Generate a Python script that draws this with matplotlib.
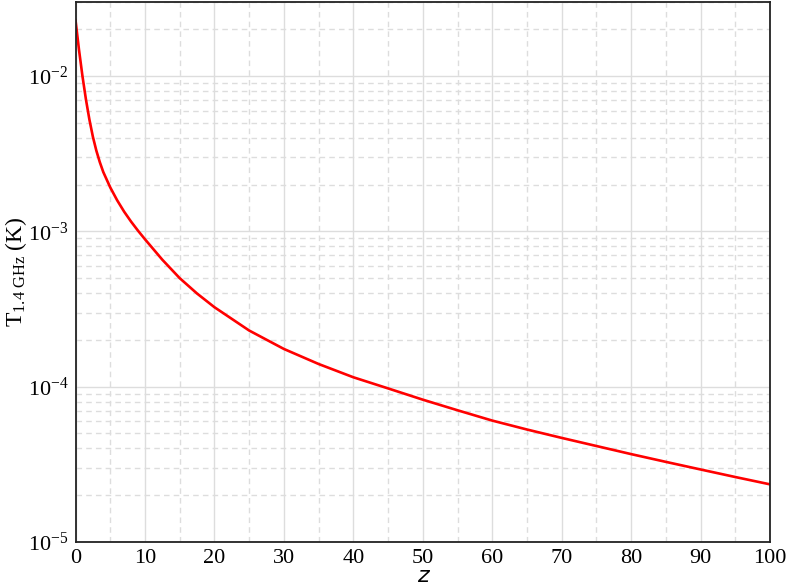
import matplotlib
matplotlib.use('Agg')
import matplotlib.pyplot as plt
from matplotlib.ticker import LogLocator, MultipleLocator, FuncFormatter
import numpy as np

plt.rcParams['font.family'] = ['Liberation Serif', 'DejaVu Serif']
plt.rcParams['mathtext.fontset'] = 'custom'
plt.rcParams['mathtext.rm'] = 'Liberation Serif'
plt.rcParams['mathtext.it'] = 'Liberation Serif:italic'

# brightness temperature at 1.4 GHz vs redshift
z = [0, 0.5, 1, 1.5, 2, 2.5, 3, 3.5, 4, 5, 6, 7, 8, 9, 10, 12.5, 15, 17.5,
     20, 25, 30, 35, 40, 45, 50, 55, 60, 65, 70, 75, 80, 85, 90, 95, 100]
T = [2.29e-2, 1.48e-2, 1.0e-2, 7.08e-3, 5.25e-3, 4.07e-3, 3.31e-3, 2.79e-3,
     2.41e-3, 1.92e-3, 1.585e-3, 1.34e-3, 1.156e-3, 1.01e-3, 8.9e-4, 6.57e-4,
     5.0e-4, 3.98e-4, 3.25e-4, 2.30e-4, 1.75e-4, 1.40e-4, 1.15e-4, 9.75e-5,
     8.25e-5, 7.05e-5, 6.05e-5, 5.3e-5, 4.68e-5, 4.15e-5, 3.68e-5, 3.28e-5,
     2.93e-5, 2.62e-5, 2.35e-5]

fig = plt.figure(figsize=(7.89, 5.86), dpi=100)
ax = fig.add_axes([0.0957, 0.0751, 0.8803, 0.9215])

ax.plot(z, T, color='red', linewidth=1.9)

ax.set_yscale('log')
ax.set_xlim(0, 100)
ax.set_ylim(1e-5, 3e-2)

ax.xaxis.set_major_locator(MultipleLocator(10))
ax.xaxis.set_minor_locator(MultipleLocator(5))
ax.yaxis.set_major_locator(LogLocator(base=10))
ax.yaxis.set_minor_locator(LogLocator(base=10, subs=np.arange(2, 10)))
ax.yaxis.set_major_formatter(FuncFormatter(lambda v, p: r'$\mathregular{10^{%d}}$' % round(np.log10(v))))
ax.yaxis.set_minor_formatter(FuncFormatter(lambda v, p: ''))

ax.grid(True, which='major', color='#dddddd', linestyle='-', linewidth=1.0)
ax.grid(True, which='minor', color='#dddddd', linestyle='--', linewidth=1.0, dashes=(4, 3))
ax.set_axisbelow(True)

ax.tick_params(which='both', length=0, labelsize=16)
ax.tick_params(axis='y', pad=5)
ax.tick_params(axis='x', pad=5)

for s in ax.spines.values():
    s.set_linewidth(1.3)
    s.set_color('#222222')

ax.set_ylabel(r'T$_{\mathregular{1.4\ GHz}}$ (K)', fontsize=17, va='center')
ax.yaxis.set_label_coords(-0.086, 0.5)
ax.set_xlabel('z', fontsize=16, fontstyle='italic', family='DejaVu Sans', va='center')
ax.xaxis.set_label_coords(0.5, -0.063)

fig.savefig('out.png', dpi=100)
